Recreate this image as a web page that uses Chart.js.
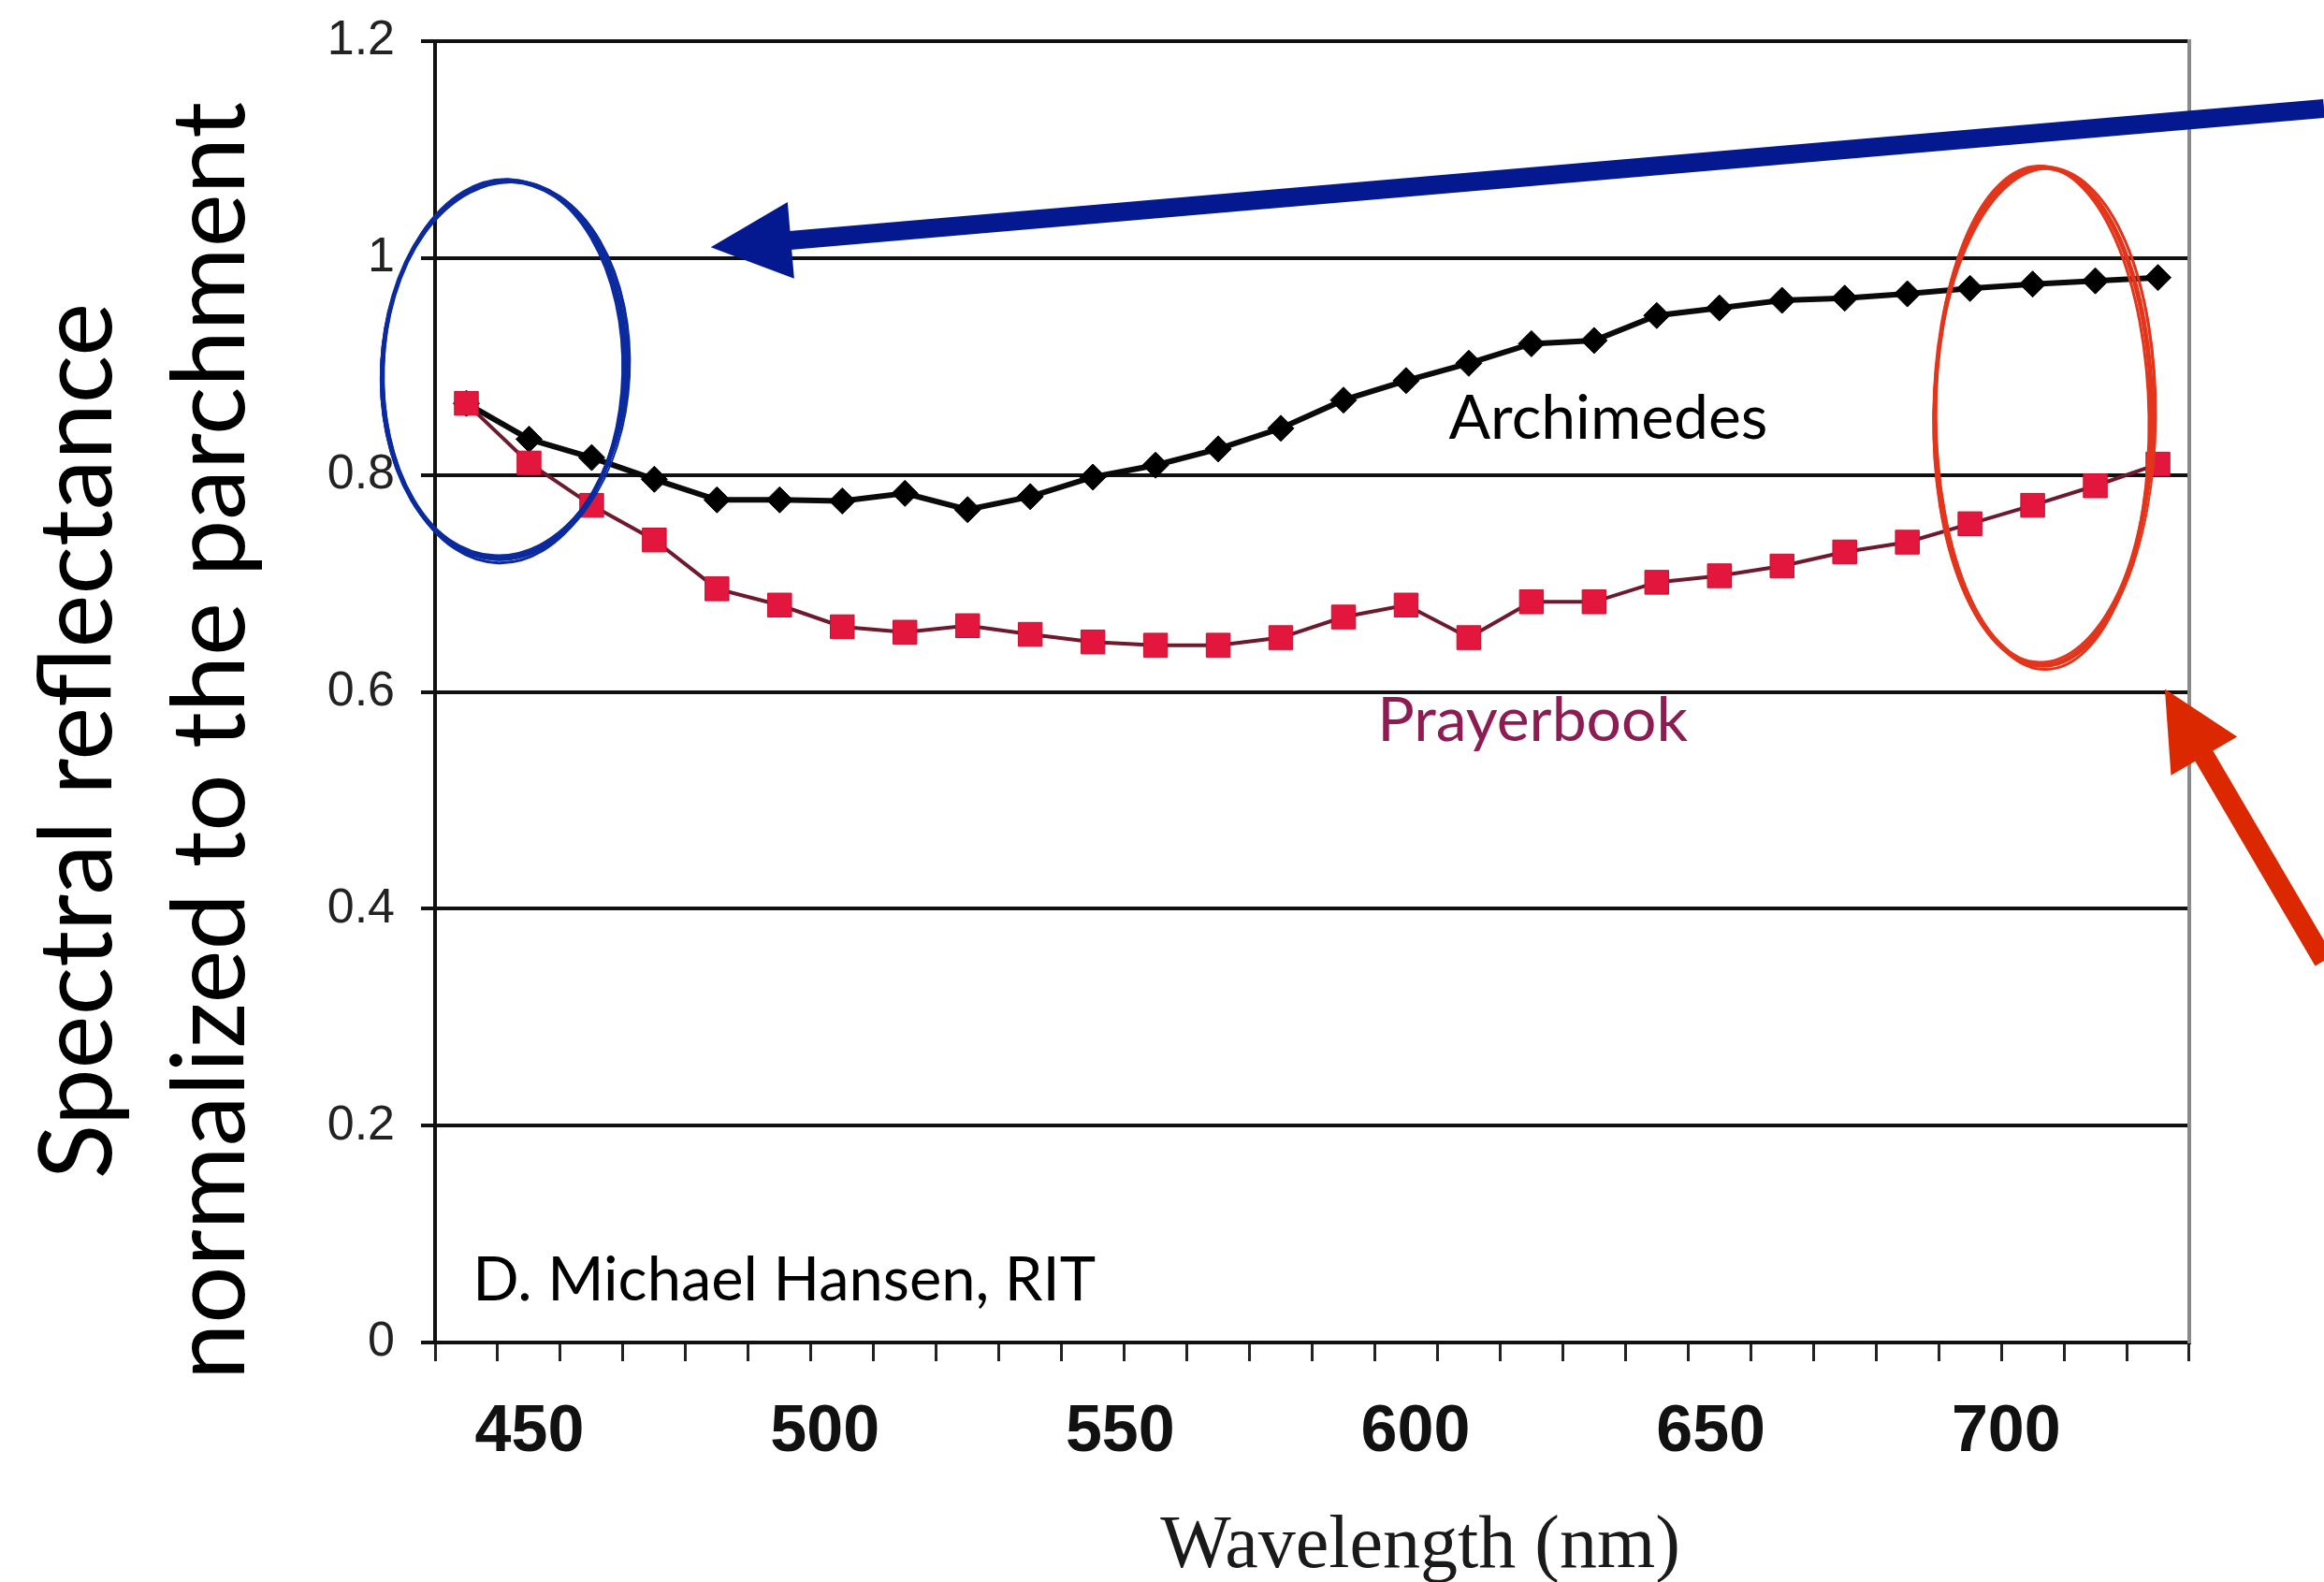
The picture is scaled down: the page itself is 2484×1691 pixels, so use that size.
<!DOCTYPE html>
<html>
<head>
<meta charset="utf-8">
<title>Spectral reflectance</title>
<script src="https://cdn.jsdelivr.net/npm/chart.js@4.4.1/dist/chart.umd.min.js"></script>
<style>
  html, body { margin: 0; padding: 0; background: #fff; }
  canvas { display: block; }
</style>
</head>
<body>
<canvas id="chartReflectance" width="2484" height="1691"></canvas>
<script>
// wavelengths of each measurement (nm)
const wavelengths = [440, 450, 460, 470, 480, 490, 500, 510, 520, 530, 540, 550, 560, 570,
                     580, 590, 600, 610, 620, 630, 640, 650, 660, 670, 680, 690, 700, 710];

// reflectance normalized to the parchment
const archimedes = [0.866, 0.833, 0.816, 0.796, 0.777, 0.777, 0.776, 0.783, 0.768, 0.780,
                    0.798, 0.809, 0.824, 0.843, 0.869, 0.887, 0.903, 0.921, 0.924, 0.947,
                    0.954, 0.961, 0.963, 0.967, 0.972, 0.976, 0.979, 0.982];
const prayerbook = [0.866, 0.811, 0.772, 0.740, 0.695, 0.680, 0.660, 0.655, 0.661, 0.653,
                    0.646, 0.643, 0.643, 0.650, 0.669, 0.680, 0.650, 0.683, 0.683, 0.701,
                    0.707, 0.716, 0.729, 0.738, 0.755, 0.772, 0.790, 0.810];

// tick labels
const xTickLabels = [450, 500, 550, 600, 650, 700];
const yTickLabels = [0, 0.2, 0.4, 0.6, 0.8, 1, 1.2];

const yTitle = ["Spectral reflectance", "normalized to the parchment"];
const xTitle = "Wavelength (nm)";

// the wavelength labels were pasted on the slide, so they get their own axis
const labelAxisMin = 434;
const labelAxisMax = 731;

// slide notes, anchored in data units (category index, reflectance)
const notes = [
    { text: "Archimedes", at: [15.68, 0.833], color: "#000", size: 66 },
    { text: "Prayerbook", at: [14.54, 0.555], color: "#8c1c52", size: 66 },
    { text: "D. Michael Hansen, RIT", at: [0.1, 0.039], color: "#000", size: 65 },
];

const drawArrow = (ctx, x0, y0, x1, y1, color, shaft, headLen, headHalf) => {
    const ang = Math.atan2(y1 - y0, x1 - x0);
    const bx = x1 - Math.cos(ang) * headLen;
    const by = y1 - Math.sin(ang) * headLen;
    ctx.strokeStyle = color;
    ctx.lineWidth = shaft;
    ctx.lineCap = "butt";
    ctx.beginPath();
    ctx.moveTo(x0, y0);
    ctx.lineTo(bx + Math.cos(ang) * 4, by + Math.sin(ang) * 4);
    ctx.stroke();
    ctx.fillStyle = color;
    ctx.beginPath();
    ctx.moveTo(x1, y1);
    ctx.lineTo(bx + Math.sin(ang) * headHalf, by - Math.cos(ang) * headHalf);
    ctx.lineTo(bx - Math.sin(ang) * headHalf, by + Math.cos(ang) * headHalf);
    ctx.closePath();
    ctx.fill();
};

// hand drawn looking ellipse: a few passes slightly off each other
const drawSketchEllipse = (ctx, cx, cy, rx, ry, tilt, color) => {
    ctx.strokeStyle = color;
    const passes = [[0, 0, 0, 5], [2, -2, 0.02, 3], [-2, 3, -0.015, 3], [3, 1, 0.01, 2]];
    passes.forEach(([dx, dy, rot, w]) => {
        ctx.lineWidth = w;
        ctx.beginPath();
        ctx.ellipse(cx + dx * 0.5, cy + dy * 0.5, rx + dx, ry + dy, tilt + rot, 0, Math.PI * 2);
        ctx.stroke();
    });
};

const slideNotes = {
    id: "slideNotes",
    afterDraw(chart) {
        const { ctx, scales: { x, y } } = chart;
        ctx.save();

        // axis titles
        ctx.fillStyle = "#000";
        ctx.textAlign = "center";
        ctx.textBaseline = "alphabetic";
        ctx.font = "108px Lato";
        yTitle.forEach((line, i) => {
            ctx.save();
            ctx.translate(119 + i * 142, 792);
            ctx.rotate(-Math.PI / 2);
            ctx.fillText(line, 0, 0);
            ctx.restore();
        });
        ctx.fillStyle = "#1a1a1a";
        ctx.font = "80px 'Liberation Serif'";
        ctx.fillText(xTitle, 1518, 1675);

        // labels on the plot
        ctx.textAlign = "left";
        notes.forEach((n) => {
            ctx.fillStyle = n.color;
            ctx.font = `${n.size}px Lato`;
            ctx.fillText(n.text, x.getPixelForValue(n.at[0]), y.getPixelForValue(n.at[1]));
        });

        // circled regions
        drawSketchEllipse(ctx, x.getPixelForValue(0.6), y.getPixelForValue(0.897), 130, 202, 0.04, "#0b2a9e");
        drawSketchEllipse(ctx, x.getPixelForValue(25.17), y.getPixelForValue(0.854), 116, 266, 0, "#e2351c");

        // arrows
        drawArrow(ctx, chart.width, y.getPixelForValue(1.138),
                  x.getPixelForValue(3.9), y.getPixelForValue(1.01), "#04198f", 20, 86, 41);
        drawArrow(ctx, chart.width, y.getPixelForValue(0.352),
                  x.getPixelForValue(27.11), y.getPixelForValue(0.6026), "#dc2800", 22, 83, 41);

        ctx.restore();
    },
};

const crearGrafico = () => {
    const ctx = document.getElementById("chartReflectance").getContext("2d");
    new Chart(ctx, {
        type: "line",
        data: {
            labels: wavelengths,
            datasets: [
                {
                    label: "Archimedes",
                    data: archimedes,
                    order: 2,
                    borderColor: "#0a0a0a",
                    borderWidth: 6,
                    pointStyle: "rectRot",
                    pointRadius: 14,
                    pointBackgroundColor: "#000",
                    pointBorderColor: "#000",
                    pointBorderWidth: 1,
                },
                {
                    label: "Prayerbook",
                    data: prayerbook,
                    order: 1,
                    borderColor: "#6e1a2e",
                    borderWidth: 4,
                    pointStyle: "rect",
                    pointRadius: 18,
                    pointBackgroundColor: "#e3173e",
                    pointBorderColor: "#c8102e",
                    pointBorderWidth: 1,
                },
            ],
        },
        options: {
            responsive: false,
            animation: false,
            layout: { padding: { top: 44, right: 144, left: 0, bottom: 0 } },
            plugins: {
                legend: { display: false },
                tooltip: { enabled: false },
            },
            scales: {
                x: {
                    type: "category",
                    offset: true,
                    weight: 0,
                    afterFit: (s) => { s.height = 30; },
                    ticks: { display: false },
                    grid: { offset: true, drawOnChartArea: false, tickLength: 20, color: "#222", lineWidth: 3 },
                    border: { color: "#111", width: 4 },
                },
                xLabels: {
                    type: "linear",
                    position: "bottom",
                    weight: 1,
                    min: labelAxisMin,
                    max: labelAxisMax,
                    afterFit: (s) => { s.height = 226; },
                    afterBuildTicks: (s) => { s.ticks = xTickLabels.map((v) => ({ value: v })); },
                    ticks: {
                        callback: (v) => String(v),
                        autoSkip: false,
                        maxRotation: 0,
                        padding: 25,
                        color: "#111",
                        font: { family: "Liberation Sans", size: 70, weight: "bold" },
                    },
                    grid: { display: false, drawTicks: false },
                    border: { display: false },
                },
                y: {
                    min: 0,
                    max: 1.2,
                    afterFit: (s) => {
                        s.width = 465;
                        // the top label may stick out, the slide has room for it
                        s.paddingTop = 0;
                        s.paddingBottom = 0;
                    },
                    afterBuildTicks: (s) => { s.ticks = yTickLabels.map((v) => ({ value: v })); },
                    ticks: {
                        callback: (v) => String(v),
                        padding: 28,
                        color: "#222",
                        font: { family: "Liberation Sans", size: 52 },
                    },
                    grid: { color: "#111", lineWidth: 4, tickLength: 15 },
                    border: { color: "#111", width: 4 },
                },
                yRight: {
                    position: "right",
                    min: 0,
                    max: 1.2,
                    afterFit: (s) => { s.width = 0; },
                    ticks: { display: false },
                    grid: { display: false, drawTicks: false },
                    border: { color: "#8a8a8a", width: 4 },
                },
            },
        },
        plugins: [slideNotes],
    });
};

crearGrafico();
</script>
</body>
</html>
